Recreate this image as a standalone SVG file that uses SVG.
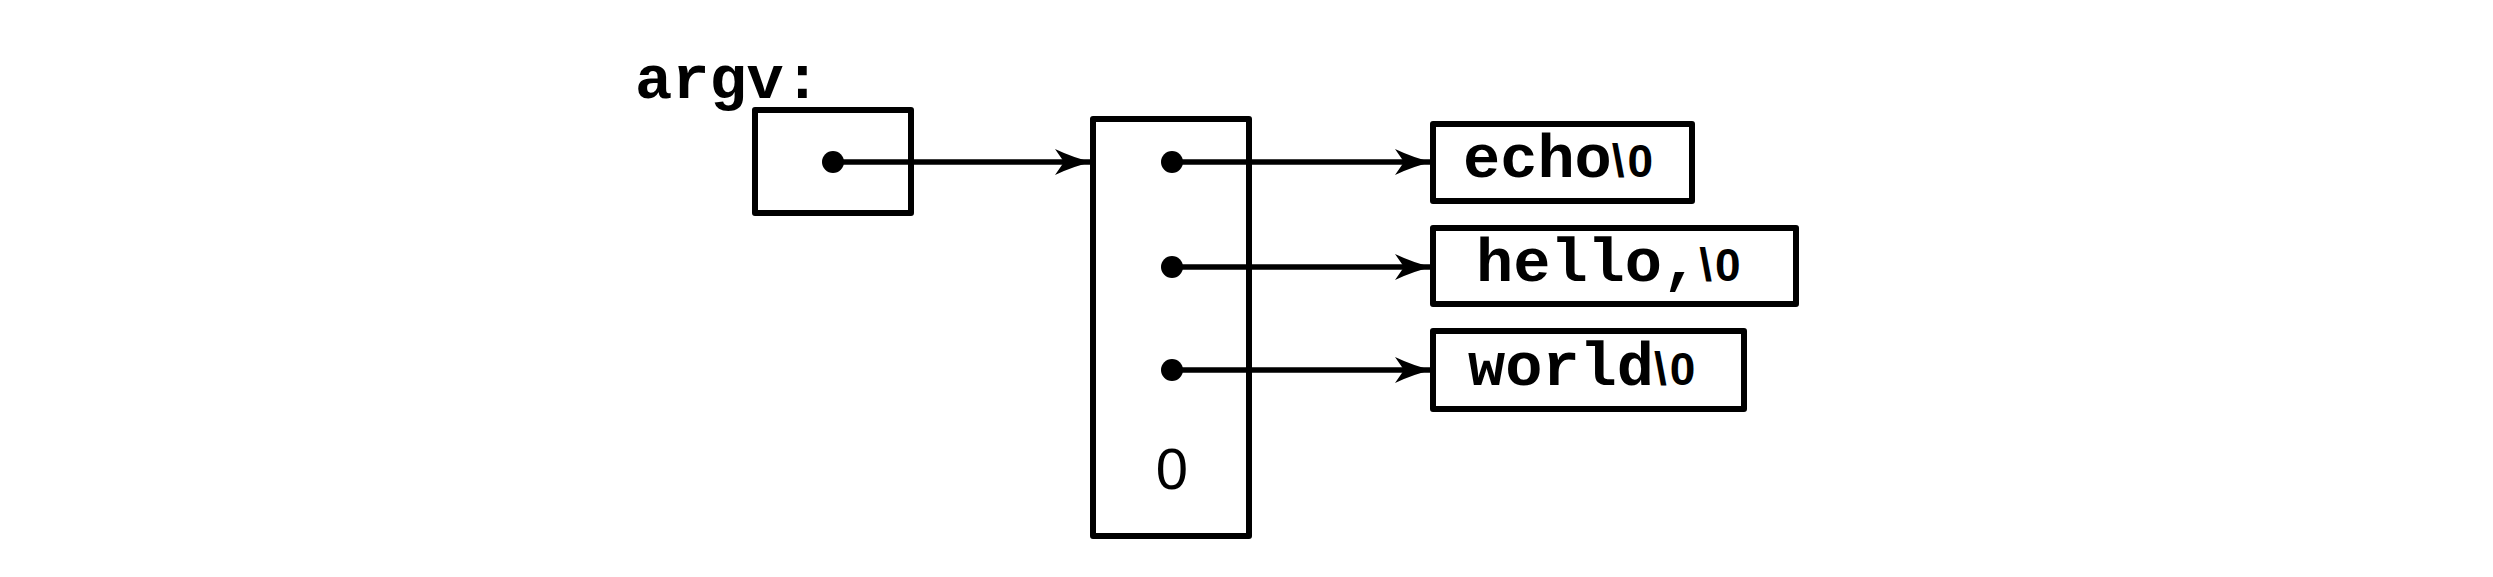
<svg xmlns="http://www.w3.org/2000/svg" width="2493" height="577" viewBox="0 0 2493 577">
<style>
.box{fill:none;stroke:#000;stroke-width:6;stroke-linejoin:round}
.ln{stroke:#000;stroke-width:5.5;fill:none}
.dot{fill:#000}
.mono{font-family:"Liberation Mono","Courier New",monospace;font-weight:bold;fill:#000}
.big{font-size:62px}
.sm{font-family:"Liberation Sans",Arial,sans-serif;font-size:46px;font-weight:bold;letter-spacing:3px}
.num{font-family:"Liberation Sans",Arial,sans-serif;font-size:58px;fill:#000}
</style>
<defs>
<marker id="ah" markerUnits="userSpaceOnUse" markerWidth="40" markerHeight="30" refX="36" refY="15" orient="auto" viewBox="0 0 40 30">
<path d="M1,2 Q20,11 38,15 Q20,19 1,28 L10,15 Z" fill="#000"/>
</marker>
</defs>
<rect width="2493" height="577" fill="#fff"/>
<text class="mono big" x="635" y="98">argv:</text>
<g id="argv">
<rect class="box" x="755" y="110" width="156" height="103"/>
<circle class="dot" cx="833" cy="162" r="11"/>
</g>
<g id="array">
<rect class="box" x="1093" y="119" width="156" height="417"/>
<circle class="dot" cx="1172" cy="162" r="11"/>
<circle class="dot" cx="1172" cy="267" r="11"/>
<circle class="dot" cx="1172" cy="370" r="11"/>
<text class="num" x="1172" y="489" text-anchor="middle">0</text>
</g>
<g id="echo">
<rect class="box" x="1433" y="124" width="259" height="77"/>
<text class="mono" x="1463" y="177"><tspan class="big">echo</tspan><tspan class="sm">\0</tspan></text>
</g>
<g id="hello">
<rect class="box" x="1433" y="228" width="363" height="76"/>
<text class="mono" x="1476" y="281"><tspan class="big">hello,</tspan><tspan class="sm">\0</tspan></text>
</g>
<g id="world">
<rect class="box" x="1433" y="331" width="311" height="78"/>
<text class="mono" x="1468" y="385"><tspan class="big">world</tspan><tspan class="sm">\0</tspan></text>
</g>
<g id="connectors">
<line class="ln" x1="833" y1="162" x2="1090" y2="162" marker-end="url(#ah)"/>
<line class="ln" x1="1172" y1="162" x2="1430" y2="162" marker-end="url(#ah)"/>
<line class="ln" x1="1172" y1="267" x2="1430" y2="267" marker-end="url(#ah)"/>
<line class="ln" x1="1172" y1="370" x2="1430" y2="370" marker-end="url(#ah)"/>
</g>
</svg>
